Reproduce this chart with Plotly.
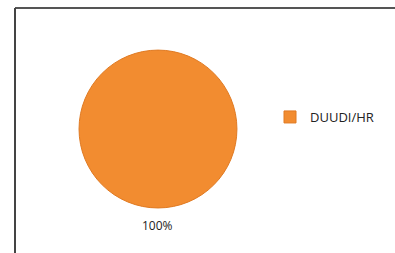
import plotly.graph_objects as go

labels = ["DUUDI/HR"]
values = [100]
colors = ["#F28C30"]

total = sum(values)
pct_text = [f"{round(v / total * 100)}%" for v in values]

fig = go.Figure()
fig.add_trace(go.Pie(
    labels=labels,
    values=values,
    marker=dict(colors=colors, line=dict(color="#E07A22", width=1)),
    textinfo="none",
    sort=False,
    domain=dict(x=[0.2, 0.6], y=[0.178, 0.802]),
    showlegend=True,
    hoverinfo="label+percent",
))

fig.add_annotation(
    x=0.398, y=(253 - 225) / 253, xref="paper", yref="paper",
    text=pct_text[0], showarrow=False,
    font=dict(family="Open Sans", size=12, color="#222222"),
    xanchor="center", yanchor="middle",
)

fig.add_shape(type="line", xref="paper", yref="paper",
              x0=15 / 395, x1=1, y0=(253 - 8) / 253, y1=(253 - 8) / 253,
              line=dict(color="#555555", width=2))
fig.add_shape(type="line", xref="paper", yref="paper",
              x0=15 / 395, x1=15 / 395, y0=0, y1=(253 - 8) / 253,
              line=dict(color="#444444", width=2))

fig.update_layout(
    width=395, height=253,
    margin=dict(l=0, r=0, t=0, b=0),
    paper_bgcolor="white", plot_bgcolor="white",
    font=dict(family="Open Sans", size=12, color="#222222"),
    legend=dict(x=270 / 395, y=(253 - 117) / 253, xanchor="left", yanchor="middle",
                font=dict(family="Open Sans", size=13, color="#222222"),
                itemwidth=30, bgcolor="rgba(0,0,0,0)"),
)

fig.write_html("out.html", config={"displayModeBar": False},
               post_script="document.body.style.margin='0';document.body.style.overflow='hidden';")
